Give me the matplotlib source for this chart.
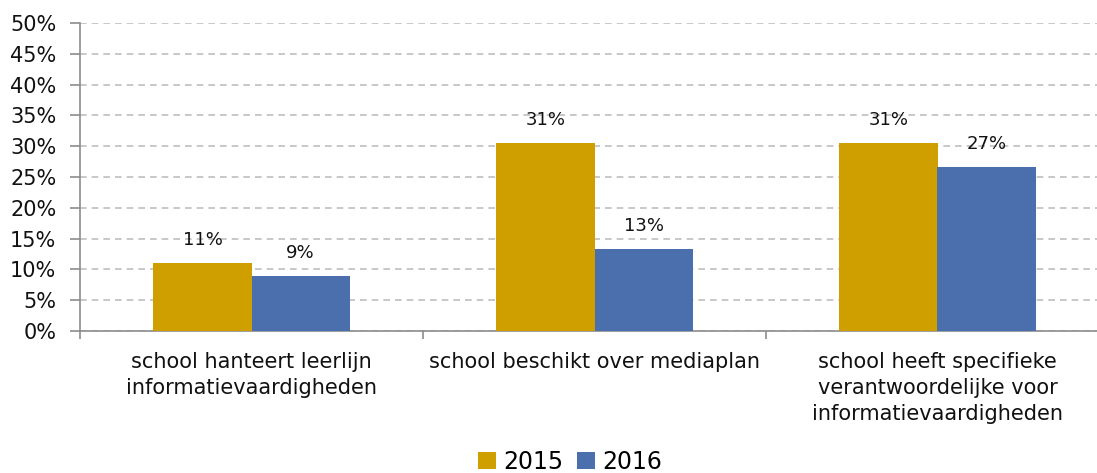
import numpy as np
import matplotlib.pyplot as plt
from matplotlib.ticker import FuncFormatter

#----------------- data --------------------------------------
categories = ['school hanteert leerlijn\ninformatievaardigheden',
              'school beschikt over mediaplan',
              'school heeft specifieke\nverantwoordelijke voor\ninformatievaardigheden']
years = ['2015', '2016']
v2015 = [11.0, 30.5, 30.5]
v2016 = [9.0, 13.3, 26.6]
labels2015 = ['11%', '31%', '31%']
labels2016 = ['9%', '13%', '27%']

c2015 = '#CF9F00'
c2016 = '#4A6FAC'

#----------------- figure ------------------------------------
fig = plt.figure(figsize=(10.97, 4.73), dpi=100)
ax = fig.add_axes([80/1097., 1-331/473., 1029/1097., 308/473.])

x = np.arange(len(categories))
w = 0.286
b1 = ax.bar(x - w/2, v2015, w, color=c2015, label=years[0], zorder=3)
b2 = ax.bar(x + w/2, v2016, w, color=c2016, label=years[1], zorder=3)

for bars, labs in [(b1, labels2015), (b2, labels2016)]:
    for r, t in zip(bars, labs):
        ax.annotate(t, (r.get_x()+r.get_width()/2, r.get_height()), xytext=(0, 10),
                    textcoords='offset points', ha='center', va='bottom',
                    fontsize=13, color='#111111')

ax.set_ylim(0, 50)
ax.set_xlim(-0.5, 2.5)
ax.set_yticks(np.arange(0, 51, 5))
ax.yaxis.set_major_formatter(FuncFormatter(lambda v, p: '%d%%' % v))
ax.grid(axis='y', color='#BFBFBF', linestyle=(0, (4, 3)), lw=1.2, zorder=0)

ax.set_xticks(x)
ax.set_xticklabels(categories, fontsize=15, color='#111111', linespacing=1.38)
ax.set_xticks([-0.5, 0.5, 1.5, 2.5], minor=True)
ax.tick_params(axis='x', which='major', length=0, pad=15)
ax.tick_params(axis='x', which='minor', length=6, color='#8C8C8C', width=1.2)
ax.tick_params(axis='y', length=7, color='#8C8C8C', width=1.2, labelsize=15,
               labelcolor='#111111', pad=10)

for s in ['top', 'right']:
    ax.spines[s].set_visible(False)
ax.spines['left'].set_color('#8C8C8C')
ax.spines['bottom'].set_color('#8C8C8C')
ax.spines['left'].set_linewidth(1.2)
ax.spines['bottom'].set_linewidth(1.2)

fig.legend(loc='center', bbox_to_anchor=(570/1097., 1-462/473.), ncol=2, frameon=False,
           fontsize=17, handlelength=0.75, handleheight=0.75, handletextpad=0.3,
           columnspacing=0.6, borderpad=0)

fig.savefig('out.png', dpi=100)
